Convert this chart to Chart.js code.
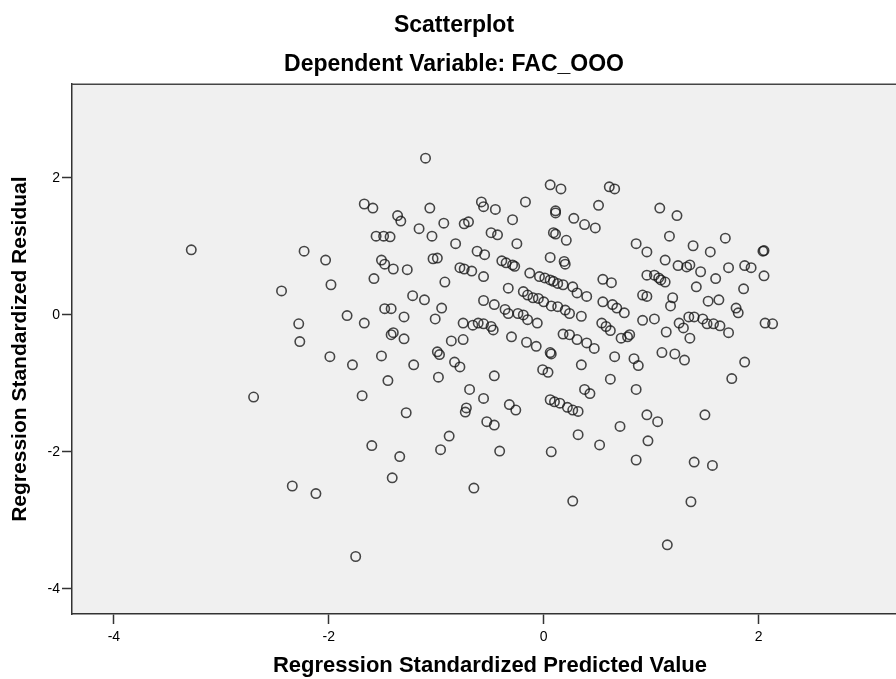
<!DOCTYPE html>
<html><head><meta charset="utf-8">
<script src="https://cdn.jsdelivr.net/npm/chart.js@4.4.1/dist/chart.umd.min.js"></script>
<style>html,body{margin:0;padding:0;background:#fff;overflow:hidden;width:896px;height:679px}</style>
</head><body>
<canvas id="c" width="908" height="679"></canvas>
<script>
const chartTitle = 'Scatterplot';
const chartSubtitle = 'Dependent Variable: FAC_OOO';
const xAxisTitle = 'Regression Standardized Predicted Value';
const yAxisTitle = 'Regression Standardized Residual';
const xTickValues = [-4, -2, 0, 2];
const xTickLabels = ['-4', '-2', '0', '2'];
const yTickValues = [-4, -2, 0, 2];
const yTickLabels = ['-4', '-2', '0', '2'];

// Regression standardized predicted values (x)
const predicted = [
 0.06,0.16,0.61,0.66,-0.58,-0.56,-0.45,-0.17,0.11,0.11,0.51,-0.29,0.28,0.38,0.48,-0.49,-0.43,0.09,0.11,0.21,
 -0.25,0.86,0.96,-0.55,0.06,0.19,0.20,-0.39,-0.35,-0.29,-0.27,-0.56,-0.13,-0.04,0.01,0.06,0.09,0.13,0.18,0.27,
 0.31,0.40,0.55,0.63,0.96,-0.33,-0.19,-0.15,-0.10,-0.05,0.00,0.07,0.13,0.20,0.24,0.35,-0.56,-0.46,-0.36,-0.33,
 -0.24,-0.19,-0.15,-0.06,0.55,0.64,0.68,0.75,0.92,0.96,0.92,-0.56,-0.49,-0.47,-0.30,-0.16,-0.07,0.18,0.24,0.31,
 0.40,0.47,0.54,0.58,0.62,0.72,0.78,0.80,0.66,0.84,0.88,0.06,0.07,0.35,-0.01,0.04,-0.46,0.62,0.86,0.38,
 0.43,-0.56,-0.32,-0.26,0.06,0.10,0.15,0.22,0.27,0.32,-0.53,-0.46,0.96,0.71,
 -0.41,0.07,0.27,0.32,0.52,0.86,0.97,
 -3.28,-2.70,-2.44,-2.34,-2.28,-2.27,-2.23,-2.12,-2.03,-1.98,-1.99,-1.83,-1.78,-1.75,-1.69,-1.67,-1.67,-1.60,-1.59,-1.58,
 -1.56,-1.51,-1.51,-1.49,-1.48,-1.48,-1.45,-1.43,-1.42,-1.42,-1.40,-1.41,-1.40,-1.36,-1.33,-1.34,-1.30,-1.30,-1.28,-1.27,
 -1.22,-1.21,-1.16,-1.11,-1.10,-1.06,-1.04,-1.03,-1.01,-0.99,-0.99,-0.97,-0.98,-0.96,-0.95,-0.93,-0.92,-0.88,-0.86,-0.83,
 -0.82,-0.78,-0.78,-0.75,-0.75,-0.74,-0.74,-0.73,-0.72,-0.70,-0.69,-0.67,-0.66,-0.65,-0.62,-0.61,
 1.03,1.03,1.06,1.07,1.09,1.08,1.10,1.13,1.13,1.14,1.15,1.17,1.18,1.20,1.22,1.24,1.25,1.26,1.30,1.31,
 1.33,1.36,1.35,1.36,1.37,1.39,1.40,1.40,1.42,1.46,1.48,1.50,1.52,1.53,1.55,1.57,1.58,1.60,1.63,1.64,
 1.69,1.72,1.72,1.75,1.79,1.81,1.86,1.87,1.87,1.93,2.04,2.05,2.05,2.06,2.13
];
// Regression standardized residuals (y)
const residual = [
 1.90,1.84,1.87,1.84,1.65,1.58,1.54,1.65,1.52,1.49,1.60,1.39,1.41,1.32,1.27,1.20,1.17,1.20,1.18,1.09,
 1.04,1.04,0.92,0.88,0.84,0.78,0.74,0.79,0.76,0.73,0.71,0.56,0.61,0.56,0.54,0.51,0.49,0.46,0.44,0.41,
 0.32,0.27,0.52,0.47,0.58,0.39,0.34,0.29,0.25,0.24,0.19,0.13,0.12,0.07,0.02,-0.02,0.21,0.15,0.08,0.02,
 0.02,0.00,-0.07,-0.12,0.19,0.15,0.10,0.03,0.29,0.27,-0.08,-0.13,-0.17,-0.22,-0.32,-0.40,-0.46,-0.28,-0.29,-0.36,
 -0.41,-0.49,-0.12,-0.17,-0.23,-0.34,-0.32,-0.29,-0.61,-0.64,-0.74,-0.55,-0.57,-0.73,-0.80,-0.84,-0.89,-0.94,-1.09,-1.09,
 -1.15,-1.22,-1.31,-1.39,-1.24,-1.27,-1.29,-1.35,-1.39,-1.41,-1.56,-1.61,-1.46,-1.63,
 -1.99,-2.00,-2.72,-1.75,-1.90,-2.12,-1.84,
 0.95,-1.20,0.35,-2.50,-0.13,-0.39,0.93,-2.61,0.80,0.44,-0.61,-0.01,-0.73,-3.53,-1.18,1.62,-0.12,-1.91,1.56,0.53,
 1.15,0.80,-0.60,1.15,0.09,0.74,-0.96,1.14,0.09,-0.29,-0.26,-2.38,0.67,1.45,1.37,-2.07,-0.03,-0.35,-1.43,0.66,
 0.28,-0.73,1.26,0.22,2.29,1.56,1.15,0.82,-0.06,0.83,-0.54,-0.58,-0.91,-1.97,0.10,1.34,0.48,-1.77,-0.38,-0.69,
 1.04,0.69,-0.76,-0.12,-0.36,0.67,1.33,-1.42,-1.36,1.36,-1.09,0.64,-0.15,-2.53,0.93,-0.12,
 -0.06,0.58,-1.56,0.54,0.51,1.56,-0.55,0.48,0.80,-0.25,-3.36,1.15,0.13,0.25,-0.57,1.45,0.72,-0.12,-0.19,-0.66,
 0.70,0.73,-0.03,-0.34,-2.73,1.01,-0.03,-2.15,0.41,0.63,-0.06,-1.46,-0.13,0.20,0.92,-2.20,-0.13,0.53,0.22,-0.16,
 1.12,0.69,-0.26,-0.93,0.10,0.03,0.38,0.72,-0.69,0.69,0.93,0.94,0.57,-0.12,-0.13
];

const points = predicted.map((x, i) => ({x: x, y: residual[i]}));

const FONT = "'Liberation Sans', Arial, sans-serif";

const framePlugin = {
  id: 'frame',
  beforeDraw(chart) {
    const {ctx, chartArea: a} = chart;
    ctx.save();
    ctx.fillStyle = '#F0F0F0';
    ctx.fillRect(a.left, a.top, a.right - a.left, a.bottom - a.top);
    ctx.restore();
  },
  afterDraw(chart) {
    const {ctx, chartArea: a} = chart;
    ctx.save();
    ctx.strokeStyle = '#444';
    ctx.lineWidth = 1.5;
    ctx.beginPath();
    ctx.moveTo(a.left, a.top);
    ctx.lineTo(a.right, a.top);
    ctx.stroke();
    ctx.restore();
  }
};

new Chart(document.getElementById('c'), {
  type: 'scatter',
  data: {
    datasets: [{
      data: points,
      pointStyle: 'circle',
      pointRadius: 4.7,
      pointBorderWidth: 1.6,
      pointBorderColor: 'rgba(20,20,20,0.78)',
      pointBackgroundColor: 'rgba(0,0,0,0)'
    }]
  },
  options: {
    responsive: false,
    devicePixelRatio: 1,
    animation: false,
    layout: {autoPadding: false, padding: {left: 0, right: 0, top: 0, bottom: 0}},
    plugins: {
      legend: {display: false},
      tooltip: {enabled: false},
      title: {
        display: true, text: chartTitle, color: '#000',
        font: {family: FONT, size: 23, weight: 'bold', lineHeight: 1.2},
        padding: {top: 12, bottom: 0}
      },
      subtitle: {
        display: true, text: chartSubtitle, color: '#000',
        font: {family: FONT, size: 23, weight: 'bold', lineHeight: 1.2},
        padding: {top: 11, bottom: 6}
      }
    },
    scales: {
      x: {
        type: 'linear', position: 'bottom', min: -4.39, max: 3.39,
        afterFit(s) { s.height = 65; },
        afterBuildTicks(s) { s.ticks = xTickValues.map(v => ({value: v})); },
        ticks: {
          autoSkip: false, maxRotation: 0, padding: 5, color: '#000',
          font: {family: FONT, size: 14},
          callback: (v) => xTickLabels[xTickValues.indexOf(v)]
        },
        grid: {drawOnChartArea: false, drawTicks: true, tickLength: 10, tickColor: '#333', tickWidth: 1.5},
        border: {display: true, color: '#333', width: 1.5},
        title: {
          display: true, text: xAxisTitle, color: '#000',
          font: {family: FONT, size: 22, weight: 'bold', lineHeight: 1.2},
          padding: {top: 0, bottom: 0}
        }
      },
      y: {
        type: 'linear', position: 'left', min: -4.37, max: 3.37,
        afterFit(s) { s.width = 72; },
        afterBuildTicks(s) { s.ticks = yTickValues.map(v => ({value: v})); },
        ticks: {
          autoSkip: false, padding: 2, color: '#000',
          font: {family: FONT, size: 14},
          callback: (v) => yTickLabels[yTickValues.indexOf(v)]
        },
        grid: {drawOnChartArea: false, drawTicks: true, tickLength: 10, tickColor: '#333', tickWidth: 1.5},
        border: {display: true, color: '#333', width: 1.5},
        title: {
          display: true, text: yAxisTitle, color: '#000',
          font: {family: FONT, size: 21, weight: 'bold', lineHeight: 1.2},
          padding: {top: 8, bottom: 0}
        }
      }
    }
  },
  plugins: [framePlugin]
});
</script>
</body></html>
